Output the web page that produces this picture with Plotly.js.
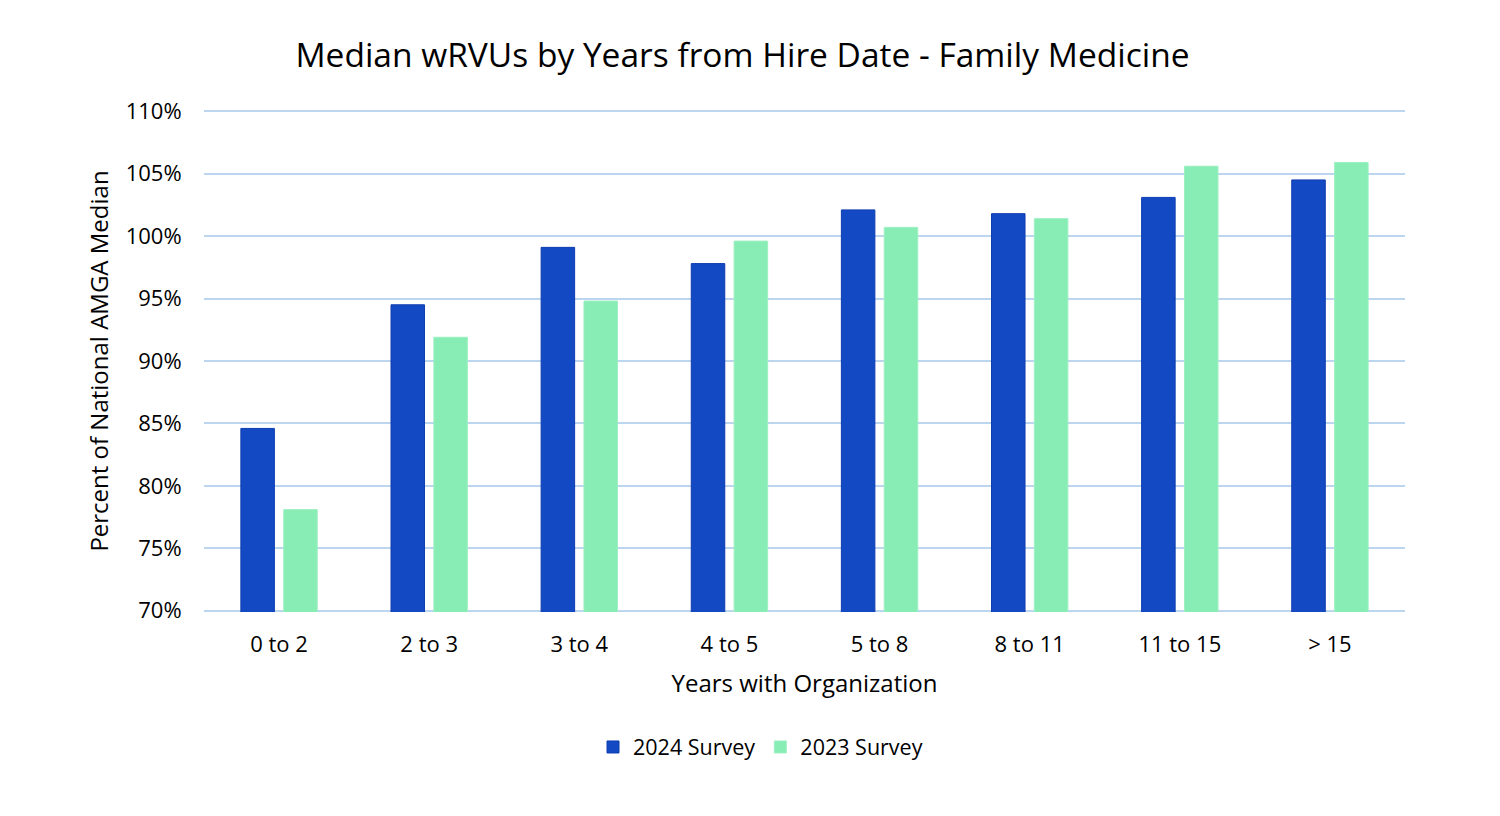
<!DOCTYPE html>
<html>
<head>
<meta charset="utf-8">
<script src="https://cdn.plot.ly/plotly-3.0.1.min.js"></script>
<style>
html,body{margin:0;padding:0;background:#fff;}
#chart{width:1500px;height:816px;}
</style>
</head>
<body>
<div id="chart"></div>
<script>
const categories = ["0 to 2", "2 to 3", "3 to 4", "4 to 5", "5 to 8", "8 to 11", "11 to 15", "> 15"];
const survey2024 = [84.6, 94.5, 99.1, 97.8, 102.1, 101.8, 103.1, 104.5];
const survey2023 = [78.1, 91.9, 94.8, 99.6, 100.7, 101.4, 105.6, 105.9];
const yTickVals = [70, 75, 80, 85, 90, 95, 100, 105, 110];
const yTickText = ["70%", "75%", "80%", "85%", "90%", "95%", "100%", "105%", "110%"];

const FONT = "Open Sans, Noto Sans, sans-serif";

const traces = [
  {
    type: "bar", name: "2024 Survey", x: categories, y: survey2024,
    marker: {color: "#1449C4", line: {color: "#0E3DB0", width: 1}},
    hoverinfo: "skip"
  },
  {
    type: "bar", name: "2023 Survey", x: categories, y: survey2023,
    marker: {color: "#88EDB4", line: {color: "#9CF0C2", width: 1}},
    hoverinfo: "skip"
  }
];

const layout = {
  width: 1500, height: 816,
  paper_bgcolor: "#ffffff", plot_bgcolor: "#ffffff",
  margin: {l: 204, r: 95, t: 110, b: 204},
  font: {family: FONT, color: "#000000", size: 22},
  title: {
    text: "Median wRVUs by Years from Hire Date - Family Medicine",
    font: {family: FONT, size: 33.5, color: "#000000"},
    xref: "container", x: 0.495, xanchor: "center",
    yref: "container", y: 1 - 55/816, yanchor: "middle"
  },
  barmode: "group",
  bargap: 0.429,
  bargroupgap: 0.218,
  xaxis: {
    type: "category",
    tickfont: {family: FONT, size: 22, color: "#000"},
    ticks: "outside", ticklen: 13, tickcolor: "rgba(0,0,0,0)",
    showline: false, showgrid: false, zeroline: false,
    title: {text: "Years with Organization", font: {family: FONT, size: 24, color: "#000"}, standoff: 17}
  },
  yaxis: {
    range: [69.9, 110.1],
    tickvals: yTickVals,
    ticktext: yTickText,
    tickfont: {family: FONT, size: 22, color: "#000"},
    ticks: "outside", ticklen: 17, tickcolor: "rgba(0,0,0,0)",
    showgrid: true, gridcolor: "#BDD6F0", gridwidth: 2,
    zeroline: false, showline: false,
    title: {text: "Percent of National AMGA Median", font: {family: FONT, size: 24, color: "#000"}, standoff: 10}
  },
  showlegend: true,
  legend: {
    orientation: "h",
    xref: "container", x: 0.507, xanchor: "center",
    yref: "container", y: 1 - 747/816, yanchor: "middle",
    font: {family: FONT, size: 21.5, color: "#000"},
    itemwidth: 30, traceorder: "normal"
  }
};

Plotly.newPlot("chart", traces, layout, {staticPlot: true, displayModeBar: false});
</script>
</body>
</html>
